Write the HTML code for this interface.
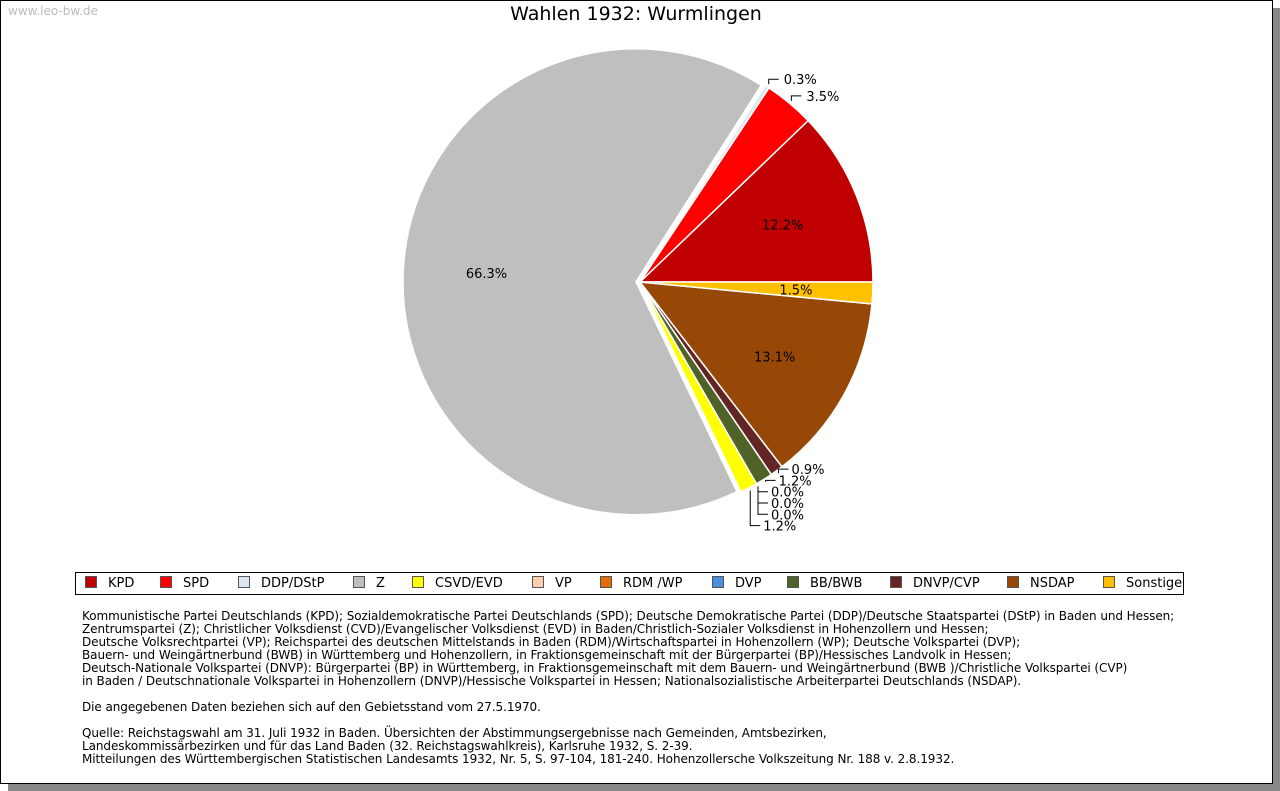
<!DOCTYPE html>
<html><head><meta charset="utf-8">
<style>
body{margin:0;width:1280px;height:791px;background:#fff;font-family:"DejaVu Sans","Liberation Sans",sans-serif;position:relative;overflow:hidden}
#shadow{position:absolute;left:8px;top:8px;width:1272px;height:783px;background:#888}
#frame{position:absolute;left:0;top:0;width:1271px;height:782px;border:1px solid #000;background:#fff}
#wm{position:absolute;left:8px;top:4px;font-size:12px;color:#bbb}
#title{position:absolute;left:0;width:1272px;top:3px;text-align:center;font-size:19px;color:#000}
#legend{position:absolute;left:75px;top:572px;width:1107px;height:21px;border:1px solid #000;font-size:13px}
.li{position:absolute;top:3px;white-space:nowrap}
.sw{position:absolute;top:3px;width:10px;height:10px;border:1px solid #555}
#notes{position:absolute;left:82px;top:610px;font-size:12px;line-height:13px;white-space:pre;color:#000;letter-spacing:-0.07px}
svg{position:absolute;left:0;top:0}
</style></head><body>
<div id="shadow"></div>
<div id="frame"></div>
<div id="wm">www.leo-bw.de</div>
<div id="title">Wahlen 1932: Wurmlingen</div>
<svg id="pie" width="1280" height="791"></svg>
<div id="legend"></div>
<div id="notes">Kommunistische Partei Deutschlands (KPD); Sozialdemokratische Partei Deutschlands (SPD); Deutsche Demokratische Partei (DDP)/Deutsche Staatspartei (DStP) in Baden und Hessen;
Zentrumspartei (Z); Christlicher Volksdienst (CVD)/Evangelischer Volksdienst (EVD) in Baden/Christlich-Sozialer Volksdienst in Hohenzollern und Hessen;
Deutsche Volksrechtpartei (VP); Reichspartei des deutschen Mittelstands in Baden (RDM)/Wirtschaftspartei in Hohenzollern (WP); Deutsche Volkspartei (DVP);
Bauern- und Weingärtnerbund (BWB) in Württemberg und Hohenzollern, in Fraktionsgemeinschaft mit der Bürgerpartei (BP)/Hessisches Landvolk in Hessen;
Deutsch-Nationale Volkspartei (DNVP): Bürgerpartei (BP) in Württemberg, in Fraktionsgemeinschaft mit dem Bauern- und Weingärtnerbund (BWB )/Christliche Volkspartei (CVP)
in Baden / Deutschnationale Volkspartei in Hohenzollern (DNVP)/Hessische Volkspartei in Hessen; Nationalsozialistische Arbeiterpartei Deutschlands (NSDAP).

Die angegebenen Daten beziehen sich auf den Gebietsstand vom 27.5.1970.

Quelle: Reichstagswahl am 31. Juli 1932 in Baden. Übersichten der Abstimmungsergebnisse nach Gemeinden, Amtsbezirken,
Landeskommissärbezirken und für das Land Baden (32. Reichstagswahlkreis), Karlsruhe 1932, S. 2-39.
Mitteilungen des Württembergischen Statistischen Landesamts 1932, Nr. 5, S. 97-104, 181-240. Hohenzollersche Volkszeitung Nr. 188 v. 2.8.1932.</div>
<script>
const parties = ["KPD","SPD","DDP/DStP","Z","CSVD/EVD","VP","RDM /WP","DVP","BB/BWB","DNVP/CVP","NSDAP","Sonstige"];
const shares = [12.2,3.5,0.3,66.3,1.2,0.0,0.0,0.0,1.2,0.9,13.1,1.5];
const colors = ["#c00000","#ff0000","#dce6f2","#bfbfbf","#ffff00","#fbcfb0","#e36c09","#4a8fdf","#4f6228","#632523","#974806","#ffc000"];
const legendX = [84,159,237,352,411,531,599,711,786,889,1006,1102];

const NS="http://www.w3.org/2000/svg";
const svg=document.getElementById('pie');
const cx=640, cy=282, R=233;
const total=shares.reduce((a,b)=>a+b,0);
function pt(a,r){return [cx+r*Math.cos(a), cy-r*Math.sin(a)];}
let acc=0;
const mids=[];
shares.forEach((v,i)=>{
  const a0=acc/total*2*Math.PI, a1=(acc+v)/total*2*Math.PI; acc+=v;
  const am=(a0+a1)/2; mids.push(am);
  if(v<=0) return;
  const off = parties[i]==="Z"?4:0;
  const ox=off*Math.cos(am), oy=-off*Math.sin(am);
  const p0=pt(a0,R), p1=pt(a1,R);
  const large=(a1-a0)>Math.PI?1:0;
  const path=document.createElementNS(NS,'path');
  path.setAttribute('d',`M${cx+ox},${cy+oy} L${p0[0]+ox},${p0[1]+oy} A${R},${R} 0 ${large} 0 ${p1[0]+ox},${p1[1]+oy} Z`);
  path.setAttribute('fill',colors[i]);
  path.setAttribute('stroke','#fff');
  path.setAttribute('stroke-width','1.5');
  
  
  svg.appendChild(path);
});
function txt(x,y,s,anchor){
  const t=document.createElementNS(NS,'text');
  t.setAttribute('x',x);t.setAttribute('y',y);t.setAttribute('font-size','13');
  t.setAttribute('font-family','DejaVu Sans, sans-serif');
  if(anchor)t.setAttribute('text-anchor',anchor);
  t.textContent=s;
  
  
  svg.appendChild(t);
}
function line(pts){
  const p=document.createElementNS(NS,'polyline');
  p.setAttribute('points',pts.map(q=>q.join(',')).join(' '));
  p.setAttribute('fill','none');p.setAttribute('stroke','#000');p.setAttribute('stroke-width','1');
  
  
  svg.appendChild(p);
}
shares.forEach((v,i)=>{
  if(v<5) return;
  const p=pt(mids[i],R*0.66);
  txt(p[0],p[1]+5,v.toFixed(1)+'%','middle');
});
const upper=[],lower=[],right=[];
shares.forEach((v,i)=>{ if(v>=5) return; const a=mids[i];
  if(a<0.15||a>2*Math.PI-0.15) right.push(i);
  else if(Math.sin(a)>0) upper.push(i); else lower.push(i);});
upper.slice().reverse().forEach(i=>{
  const p=pt(mids[i],R+3);
  const ly=p[1]-5;
  line([[p[0],p[1]],[p[0],ly],[p[0]+10,ly]]);
  txt(p[0]+15,ly+5,shares[i].toFixed(1)+'%');
});
let yPrev=-1e9;
lower.slice().reverse().forEach(i=>{
  const p=pt(mids[i],R+3);
  let ly=Math.max(p[1]-4, yPrev+11.3);
  line([[p[0],p[1]],[p[0],ly],[p[0]+10,ly]]);
  txt(p[0]+13,ly+5,shares[i].toFixed(1)+'%');
  yPrev=ly;
});
right.forEach(i=>{const p=pt(mids[i],R*0.67);txt(p[0],p[1]+5,shares[i].toFixed(1)+'%','middle');});
const lg=document.getElementById('legend');
parties.forEach((n,i)=>{
  const s=document.createElement('div');s.className='sw';
  s.style.left=(legendX[i]-75)+'px';s.style.background=colors[i];
  
  
  lg.appendChild(s);
  const t=document.createElement('div');t.className='li';
  t.style.left=(legendX[i]-75+23)+'px';t.textContent=n;
  
  
  lg.appendChild(t);
});
</script>
</body></html>
